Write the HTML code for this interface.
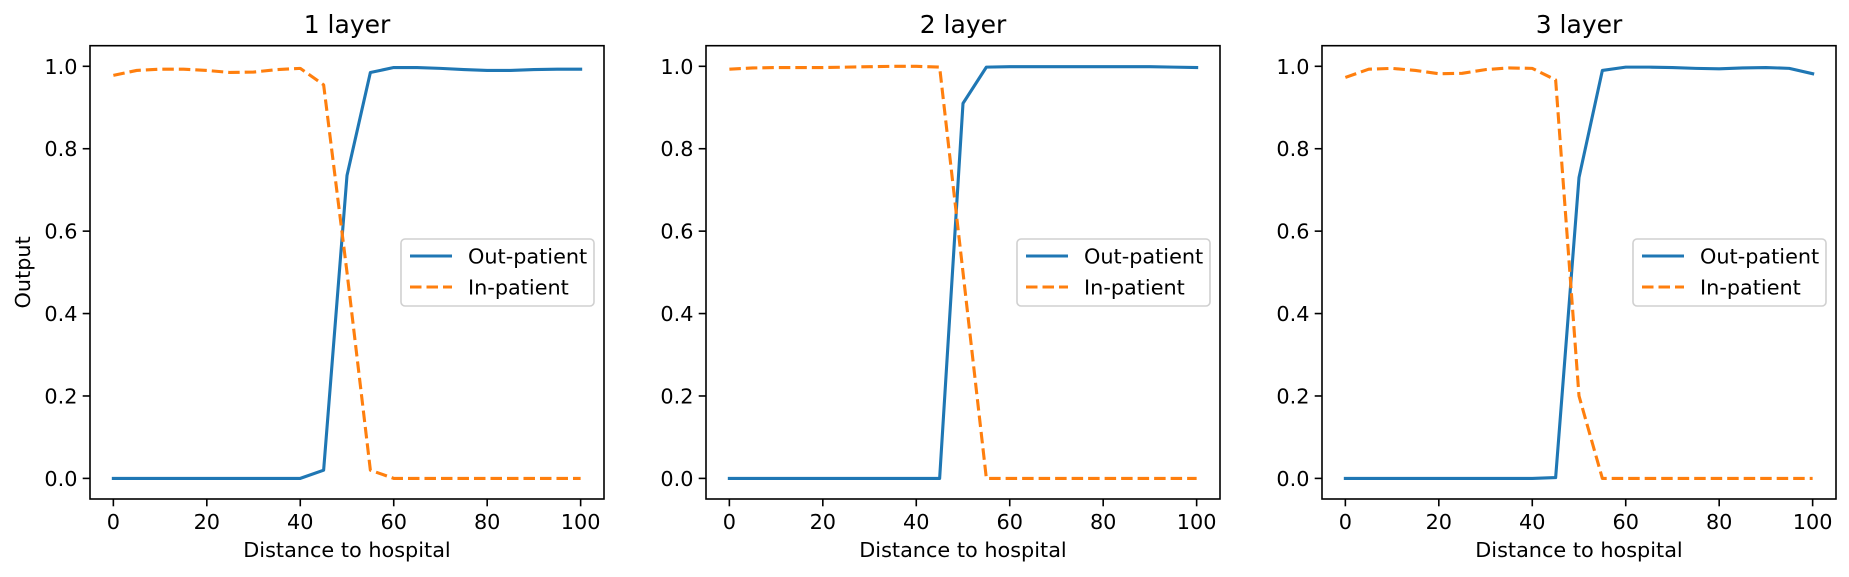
<!DOCTYPE html>
<html><head><meta charset="utf-8"><style>
html,body{margin:0;padding:0;background:#fff;}
svg{display:block;font-family:"DejaVu Sans","Liberation Sans",sans-serif;}
</style></head><body>
<svg id="chart" width="1849" height="577" viewBox="0 0 1849 577" xmlns="http://www.w3.org/2000/svg"></svg>
<script>
const xValues = [0,5,10,15,20,25,30,35,40,45,50,55,60,65,70,75,80,85,90,95,100];
const titles = ["1 layer","2 layer","3 layer"];
const out1 = [0,0,0,0,0,0,0,0,0,0.02,0.735,0.985,0.997,0.997,0.995,0.992,0.99,0.99,0.992,0.993,0.993];
const in1  = [0.978,0.99,0.993,0.993,0.99,0.985,0.986,0.992,0.995,0.955,0.5,0.02,0,0,0,0,0,0,0,0,0];
const out2 = [0,0,0,0,0,0,0,0,0,0,0.91,0.998,0.999,0.999,0.999,0.999,0.999,0.999,0.999,0.998,0.997];
const in2  = [0.993,0.996,0.997,0.997,0.997,0.998,0.999,1.0,1.0,0.998,0.5,0,0,0,0,0,0,0,0,0,0];
const out3 = [0,0,0,0,0,0,0,0,0,0.002,0.73,0.99,0.998,0.998,0.997,0.995,0.994,0.996,0.997,0.995,0.982];
const in3  = [0.973,0.993,0.995,0.99,0.982,0.983,0.992,0.996,0.995,0.967,0.2,0,0,0,0,0,0,0,0,0,0];
const xTicks = [0,20,40,60,80,100];
const yTicks = [0.0,0.2,0.4,0.6,0.8,1.0];
const outSeries = [out1,out2,out3];
const inSeries = [in1,in2,in3];

const NS="http://www.w3.org/2000/svg";
const svg=document.getElementById('chart');
function mk(tag,attrs,parent){const e=document.createElementNS(NS,tag);for(const k in attrs)e.setAttribute(k,attrs[k]);(parent||svg).appendChild(e);return e;}
const lefts=[90,706,1322], W=514, TOP=45.7, BOT=499;
const FS=20.8;
for(let p=0;p<3;p++){
  const L=lefts[p], R=L+W;
  const xs=v=>L+(v+5)/110*W;
  const ys=v=>BOT-(v+0.05)/1.1*(BOT-TOP);
  const g=mk('g',{});
  
  
  const t=mk('text',{x:(L+R)/2,y:33,'text-anchor':'middle','font-size':25,fill:'#000'},g);
  t.textContent=titles[p];
  
  
  xTicks.forEach(v=>{
    mk('line',{x1:xs(v),x2:xs(v),y1:BOT,y2:BOT+7.3,stroke:'#000','stroke-width':1.6},g);
    const tx=mk('text',{x:xs(v),y:529,'text-anchor':'middle','font-size':FS,fill:'#000'},g);
    tx.textContent=String(v);
    
    
  });
  yTicks.forEach(v=>{
    mk('line',{x1:L-7.3,x2:L,y1:ys(v),y2:ys(v),stroke:'#000','stroke-width':1.6},g);
    const ty=mk('text',{x:L-12.5,y:ys(v)+7.5,'text-anchor':'end','font-size':FS,fill:'#000'},g);
    ty.textContent=v.toFixed(1);
    
    
  });
  const xl=mk('text',{x:(L+R)/2,y:557,'text-anchor':'middle','font-size':FS,fill:'#000'},g);
  xl.textContent='Distance to hospital';
  
  
  if(p===0){
    const yl=mk('text',{x:0,y:0,'text-anchor':'middle','font-size':FS,fill:'#000',transform:'translate(30,'+((TOP+BOT)/2)+') rotate(-90)'},g);
    yl.textContent='Output';
    
    
  }
  const po=mk('polyline',{points:xValues.map((x,i)=>xs(x)+','+ys(outSeries[p][i])).join(' '),fill:'none',stroke:'#1f77b4','stroke-width':3.1,'stroke-linejoin':'round','stroke-linecap':'square'},g);
  
  
  const pi=mk('polyline',{points:xValues.map((x,i)=>xs(x)+','+ys(inSeries[p][i])).join(' '),fill:'none',stroke:'#ff7f0e','stroke-width':3.1,'stroke-dasharray':'11.5,5','stroke-linejoin':'round'},g);
  
  
  const fr=mk('rect',{x:L,y:TOP,width:W,height:BOT-TOP,fill:'none',stroke:'#000','stroke-width':1.6},g);
  
  
  // legend
  const lg=mk('g',{},g);
  
  
  const lx=R-203, ly=239;
  mk('rect',{x:lx,y:ly,width:193,height:67,rx:4,fill:'#fff','fill-opacity':0.8,stroke:'#d0d0d0','stroke-width':1.6},lg);
  mk('line',{x1:lx+9,x2:lx+51,y1:ly+17,y2:ly+17,stroke:'#1f77b4','stroke-width':3.1},lg);
  mk('line',{x1:lx+9,x2:lx+51,y1:ly+48,y2:ly+48,stroke:'#ff7f0e','stroke-width':3.1,'stroke-dasharray':'11.5,5'},lg);
  const e1=mk('text',{x:lx+67,y:ly+24.5,'font-size':FS,fill:'#000'},lg);
  e1.textContent='Out-patient';
  
  
  const e2=mk('text',{x:lx+67,y:ly+55.5,'font-size':FS,fill:'#000'},lg);
  e2.textContent='In-patient';
  
  
}
</script>
</body></html>
